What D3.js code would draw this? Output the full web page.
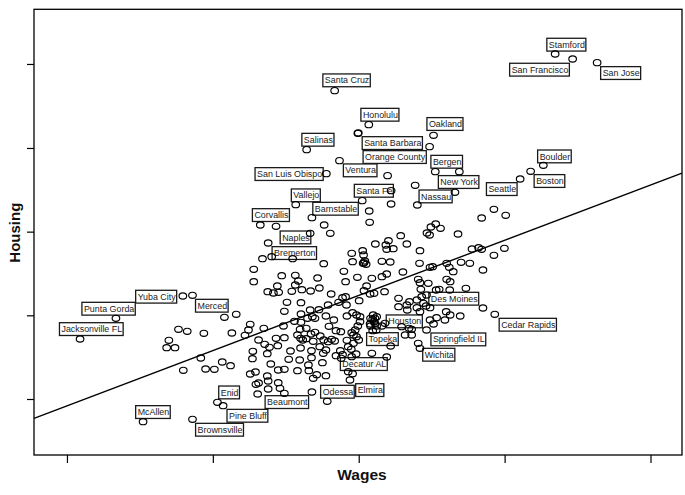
<!DOCTYPE html>
<html><head><meta charset="utf-8">
<script src="https://cdn.jsdelivr.net/npm/d3@7"></script>
<style>body{margin:0;background:#fff}svg{display:block}</style>
</head><body>
<svg id="c" width="685" height="495"></svg>
<script>
// ---- data (arbitrary units) ----
const labelNames = ["Stamford","San Francisco","San Jose","Santa Cruz","Honolulu","Oakland","Salinas","Santa Barbara","Orange County","Ventura","San Luis Obispo","Bergen","New York","Nassau","Santa Fe","Vallejo","Barnstable","Corvallis","Naples","Bremerton","Seattle","Boston","Boulder","Des Moines","Cedar Rapids","Houston","Topeka","Springfield IL","Wichita","Decatur AL","Odessa","Elmira","Beaumont","Enid","Pine Bluff","Brownsville","McAllen","Jacksonville FL","Punta Gorda","Yuba City","Merced"];
const labelWages = [12.69,13.09,13.65,7.65,8.43,9.91,7.01,8.19,9.82,7.76,7.46,9.95,10.40,9.49,8.28,6.76,7.13,5.95,7.09,6.00,11.89,12.13,12.42,9.62,11.31,8.61,8.12,9.75,9.56,7.68,7.48,8.00,7.13,4.97,5.10,4.40,3.27,1.83,2.65,4.18,5.13];
const labelHousing = [13.38,13.23,13.12,12.28,11.26,10.94,10.51,11.01,10.60,10.18,9.79,9.85,9.23,9.44,8.98,8.86,8.47,8.25,8.00,7.24,9.63,9.86,10.04,6.32,5.57,5.50,5.10,5.10,4.70,4.33,2.96,3.60,3.24,2.93,2.83,2.42,2.35,4.83,5.45,6.12,5.48];

const otherWages = [
8.18,8.86,10.50,8.94,8.94,9.54,8.44,8.45,6.31,7.41,7.55,11.29,11.56,11.01,
3.86,3.81,4.00,4.08,4.28,4.40,4.19,4.59,4.66,4.70,4.90,5.08,5.40,
6.13,6.21,6.69,7.40,5.80,5.80,6.44,6.75,7.26,6.82,6.75,6.34,6.67,6.90,7.10,7.30,6.12,6.25,6.37,7.57,7.83,7.90,7.74,6.56,6.88,7.50,7.92,7.86,7.90,6.50,7.09,7.29,6.88,7.14,7.03,7.20,7.45,7.93,
5.72,6.03,5.68,5.30,5.27,5.60,5.91,6.05,6.16,6.31,5.78,5.77,6.11,6.19,5.72,5.84,6.11,6.13,5.85,5.91,6.13,5.89,6.36,6.48,6.73,6.88,6.86,7.00,7.20,7.11,7.52,7.63,7.68,7.79,6.50,6.80,6.87,6.92,7.00,7.16,7.40,7.50,7.58,7.65,7.93,6.35,6.64,6.87,7.12,7.31,7.45,7.78,6.60,6.85,7.12,7.80,7.37,7.05,6.50,6.80,7.06,6.36,7.24,7.16,7.45,6.40,6.50,7.39,7.83,7.96,7.32,7.96,
8.23,8.46,8.57,8.47,8.61,8.15,8.08,9.41,9.26,9.41,9.60,8.08,8.50,8.84,8.14,8.04,8.80,8.73,9.83,9.91,10.17,8.18,8.04,8.20,8.52,8.60,9.18,9.35,8.93,8.03,8.06,8.52,8.55,
9.96,9.85,10.07,9.76,9.82,10.47,9.16,8.58,8.88,8.82,8.84,8.99,9.30,9.60,10.79,10.94,11.01,11.53,8.29,8.31,8.32,8.34,8.37,8.30,8.04,8.06,8.73,8.92,9.59,9.83,9.89,10.21,10.27,10.36,10.54,10.74,11.04,11.29,8.17,8.50,8.73,8.84,9.21,9.56,9.60,9.79,10.21,10.29,10.65,8.38,8.32,8.46,8.55,8.79,8.21,9.36,9.53,9.64,9.68,9.97,10.04,10.28,9.11,9.30,9.31,9.53,9.60,9.74,9.83,9.98,10.29,10.52,8.06,8.15,8.23,8.47,8.57,8.53,9.75,9.11,10.20,11.04
];
const otherHousing = [
11.00,9.73,9.85,9.28,8.88,8.85,8.67,8.33,8.21,8.25,8.00,8.72,8.54,8.46,
4.79,4.57,4.57,5.12,5.06,6.14,3.89,4.26,5.00,3.93,3.92,4.14,5.57,
7.71,7.30,7.24,7.09,6.92,6.55,6.73,6.74,6.66,6.57,6.45,6.42,6.26,6.31,6.27,6.36,6.25,6.21,6.23,6.18,6.07,6.10,5.93,5.93,5.92,5.85,5.85,6.86,6.55,5.66,5.70,5.71,5.58,5.50,5.45,5.45,5.52,5.52,
5.27,5.15,5.10,5.01,4.03,4.94,4.80,4.67,4.58,4.85,4.46,4.24,4.39,4.08,3.78,3.84,3.72,3.57,3.47,3.51,3.33,3.18,3.52,5.22,5.36,5.33,5.12,5.15,5.03,4.98,5.21,5.40,5.08,5.05,4.87,4.95,4.85,4.80,4.84,4.76,4.80,4.75,4.82,4.77,4.79,4.63,4.47,4.56,4.48,4.60,4.50,4.48,4.22,4.20,4.27,4.25,4.12,4.05,3.92,3.88,3.88,3.90,3.76,3.65,3.73,3.35,3.20,4.40,4.36,4.60,4.92,3.85,
5.35,5.28,5.30,5.22,5.22,4.90,4.95,5.12,4.95,4.95,4.55,4.70,4.40,4.29,4.38,4.30,5.30,5.22,5.40,5.28,5.40,5.22,5.02,4.80,5.08,5.10,5.20,5.15,4.62,4.52,3.79,5.42,5.35,
8.28,8.19,8.15,8.01,7.95,7.98,7.93,7.68,7.78,7.65,7.52,7.54,7.68,7.48,7.53,7.57,7.52,7.55,7.48,7.35,7.12,7.17,7.07,7.10,7.40,7.15,7.16,7.14,7.10,6.98,7.00,7.10,6.98,6.85,7.13,7.10,6.90,7.34,6.68,6.65,6.70,6.78,6.84,6.62,6.52,6.50,6.62,6.55,6.35,6.42,6.28,6.18,6.20,6.25,5.98,5.95,6.00,6.10,5.90,6.30,6.32,6.30,5.80,5.85,5.70,5.77,5.65,5.82,5.77,5.47,5.55,5.52,5.62,5.55,5.50,5.45,5.45,5.55,6.15,6.05,5.65,5.76
];

// axis ticks (unlabelled in the original) and the fitted line
const xTickValues = [1.53, 4.865, 8.20, 11.535, 14.87];
const yTickValues = [3.03, 5.54, 8.05, 10.56, 13.08];
const fitIntercept = 2.063, fitSlope = 0.4966;

// ---- layout ----
const labelOffsets = [[-8.3,-15.7],[-63,4.3],[3.5,4],[-11.8,-16.7],[-7.9,-16.3],[-6.6,-17.7],[-4.8,-16.3],[3.9,3.7],[-66.5,4],[3.9,3.3],[-71.3,-6],[-4.4,-16.3],[-16.6,-16.7],[3.9,4.7],[-7.9,-16.3],[-4.4,-15.7],[0.9,-15.3],[-7.9,-16.3],[-30,-2.3],[9.6,-12],[-33.7,3.7],[3.5,3.3],[-5.7,-15.3],[8,3],[4.4,4],[9.6,-1.7],[11.4,2.7],[4.4,3],[4.5,5],[4.4,2],[-6.6,-16],[5.7,3.7],[-46.8,3.7],[1.3,-16.3],[3.9,3.7],[3.1,4],[-7.4,-16],[-20.6,-16.3],[-34,-16],[-47.2,-5.7],[-28.9,-18]];

const L = 34, R = 682, T = 9.3, B = 455;
const svg = d3.select("#c");
const x = d3.scaleLinear().domain([0.777, 15.59]).range([L, R]);
const y = d3.scaleLinear().domain([1.35, 14.72]).range([B, T]);

// axes
const gx = svg.append("g").attr("transform", `translate(0,${B})`)
  .call(d3.axisBottom(x).tickValues(xTickValues).tickFormat("").tickSize(8).tickSizeOuter(0));
const gy = svg.append("g").attr("transform", `translate(${L},0)`)
  .call(d3.axisLeft(y).tickValues(yTickValues).tickFormat("").tickSize(7).tickSizeOuter(0));
[gx, gy].forEach(g => { g.selectAll("line").attr("stroke","#000").attr("stroke-width",1.2); g.select(".domain").remove(); });
svg.append("rect").attr("x", L).attr("y", T).attr("width", R - L).attr("height", B - T)
  .attr("fill", "none").attr("stroke", "#000").attr("stroke-width", 1.3);

// axis titles
svg.append("text").attr("x", (L + R) / 2 + 4).attr("y", 480).attr("text-anchor", "middle")
  .attr("font-family", "Liberation Sans, Arial, sans-serif").attr("font-weight", "bold").attr("font-size", 15.5)
  .attr("fill", "#111").text("Wages");
svg.append("text").attr("transform", "translate(19.5,232.7) rotate(-90)").attr("text-anchor", "middle")
  .attr("font-family", "Liberation Sans, Arial, sans-serif").attr("font-weight", "bold").attr("font-size", 15)
  .attr("fill", "#111").text("Housing");

// regression line
const x0 = x.domain()[0], x1 = x.domain()[1];
svg.append("line")
  .attr("x1", x(x0)).attr("y1", y(fitIntercept + fitSlope * x0))
  .attr("x2", x(x1)).attr("y2", y(fitIntercept + fitSlope * x1))
  .attr("stroke", "#000").attr("stroke-width", 1.4);

// labels
const labG = svg.append("g");
labelNames.forEach((n, i) => {
  const px = x(labelWages[i]) + labelOffsets[i][0];
  const py = y(labelHousing[i]) + labelOffsets[i][1];
  const g = labG.append("g");
  const rect = g.append("rect");
  const t = g.append("text").attr("x", px + 2).attr("y", py + 9.5)
    .attr("font-family", "Liberation Sans, Arial, sans-serif").attr("font-size", 8.9)
    .attr("fill", "#222").text(n);
  const tw = t.node().getComputedTextLength();
  rect.attr("x", px).attr("y", py).attr("width", tw + 3).attr("height", 12.8)
    .attr("fill", "#fff").attr("stroke", "#1a1a1a").attr("stroke-width", 1.3);
});

// points
const pts = otherWages.map((w, i) => [w, otherHousing[i]])
  .concat(labelWages.map((w, i) => [w, labelHousing[i]]));
svg.append("g").selectAll("ellipse").data(pts).join("ellipse")
  .attr("cx", d => x(d[0])).attr("cy", d => y(d[1]))
  .attr("rx", 3.8).attr("ry", 3.1)
  .attr("fill", "none").attr("stroke", "#000").attr("stroke-width", 1.15);
</script>
</body></html>
